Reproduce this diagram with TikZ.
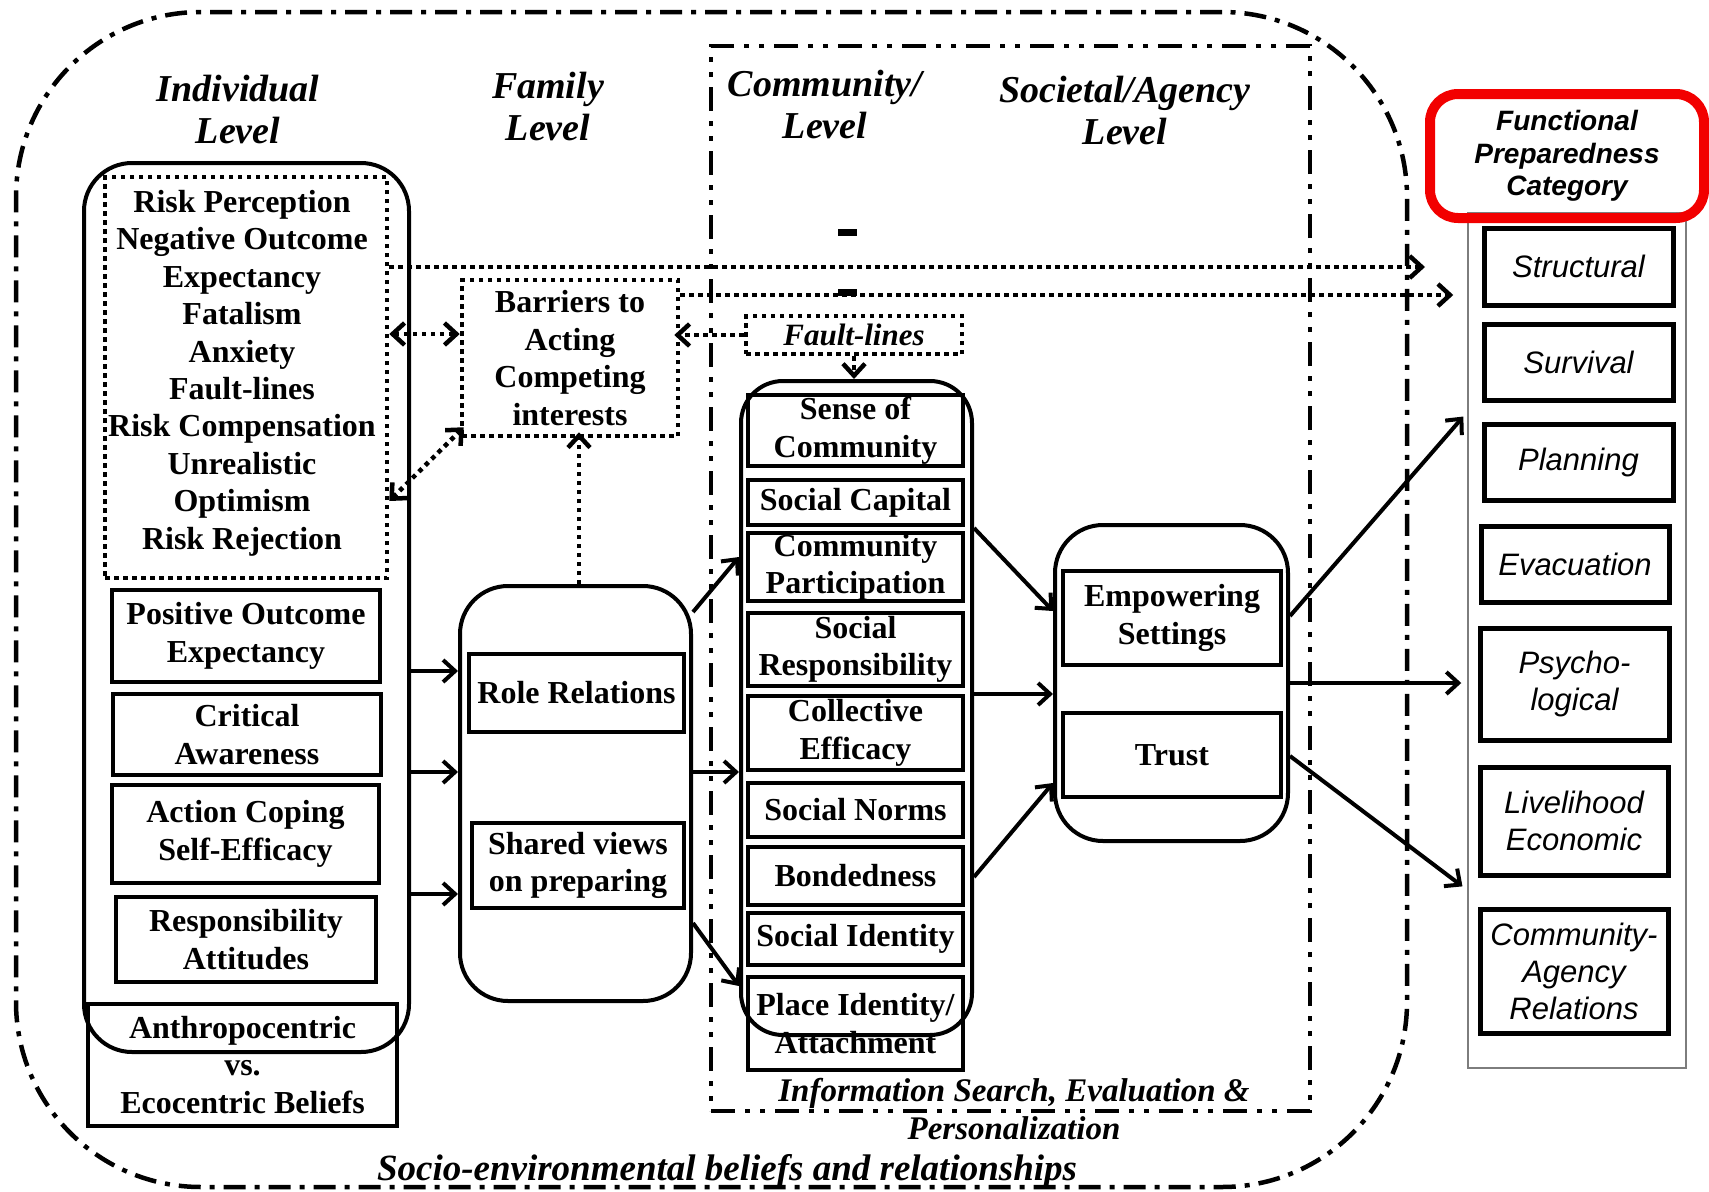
\documentclass[tikz,border=0pt]{standalone}
\usepackage{fontspec}
\setmainfont{Liberation Serif}
\newfontfamily\arialfont{Liberation Sans}
\usetikzlibrary{arrows.meta,calc}
\definecolor{hlred}{RGB}{242,0,0}
\definecolor{framegray}{RGB}{125,125,125}
\begin{document}
\begin{tikzpicture}[x=1pt,y=-1pt,
  >={Straight Barb[length=12pt,width=22pt]},
  body/.style={font=\fontsize{32}{37.4}\selectfont\bfseries, align=center},
  lvl/.style={font=\fontsize{38}{42}\selectfont\bfseries\itshape, align=center},
  note/.style={font=\fontsize{31}{38}\selectfont\bfseries\itshape, align=center},
  cat/.style={font=\arialfont\itshape\fontsize{31}{37}\selectfont, align=center},
  sbox/.style={draw, line width=4.5pt, inner sep=0pt, body},
  rbox/.style={draw, line width=4pt, rounded corners=48pt, inner sep=0pt},
  dbox/.style={draw, line width=4.5pt, dash pattern=on 4.5pt off 4.5pt, inner sep=0pt},
  cbox/.style={draw, line width=5pt, inner sep=0pt, cat},
  flow/.style={->, line width=4pt},
  dflow/.style={line width=4.5pt, dash pattern=on 4.5pt off 4.5pt},
  frame/.style={draw, line width=4.5pt, dash pattern=on 22pt off 9pt on 5pt off 9pt, inner sep=0pt},
  panel/.style={draw, line width=4.5pt, dash pattern=on 24pt off 10pt on 5pt off 10pt on 5pt off 10pt, inner sep=0pt},
]
\useasboundingbox (0,0) rectangle (1709,1192);

% outer frame and the community/agency panel
\node[frame, rounded corners=185pt, minimum width=1391pt, minimum height=1175pt] (outer) at (711.5,599.5) {};
\node[panel, minimum width=599pt, minimum height=1065pt] (panel) at (1010.5,578.5) {};

% level headings
\node[lvl] (lvind) at (238,109) {Individual\\Level};
\node[lvl] (lvfam) at (548,106) {Family\\Level};
\node[lvl] (lvcom) at (825,104) {Community/\\Level};
\node[lvl] (lvsoc) at (1125,110) {Societal/Agency\\Level};
\fill (838,229) rectangle (857,236);
\fill (838,289) rectangle (857,296);

% individual level
\node[sbox, minimum width=309pt, minimum height=122pt] (anthro) at (242.5,1065) {Anthropocentric\\vs.\\Ecocentric Beliefs};
\node[rbox, minimum width=325pt, minimum height=889pt] (indiv) at (246.5,607.5) {};
\node[dbox, minimum width=282pt, minimum height=401pt] (neg) at (246,377.5) {};
\node[body] (negtxt) at (242,373) {Risk Perception\\Negative Outcome\\Expectancy\\Fatalism\\Anxiety\\Fault-lines\\Risk Compensation\\Unrealistic\\Optimism\\Risk Rejection};
\node[sbox, minimum width=268pt, minimum height=92pt] (pos) at (246,636) {Positive Outcome\\Expectancy};
\node[sbox, minimum width=268pt, minimum height=81pt] (crit) at (247,734.5) {Critical\\Awareness};
\node[sbox, minimum width=267pt, minimum height=98pt] (act) at (245.5,834) {Action Coping\\Self-Efficacy};
\node[sbox, minimum width=260pt, minimum height=85pt] (resp) at (246,939.5) {Responsibility\\Attitudes};

% family level
\node[dbox, body, minimum width=216pt, minimum height=156pt] (barr) at (570,358) {Barriers to\\Acting\\Competing\\interests};
\node[rbox, minimum width=231pt, minimum height=415pt] (fam) at (575.5,793.5) {};
\node[sbox, minimum width=215pt, minimum height=78pt] (role) at (576.5,693) {Role Relations};
\node[sbox, minimum width=212pt, minimum height=85pt] (shared) at (578,865.5) {Shared views\\on preparing};

% community level
\node[dbox, note, minimum width=216pt, minimum height=38pt] (fault) at (854,335) {Fault-lines};
\node[sbox, minimum width=215pt, minimum height=93pt] (place) at (855.5,1023.5) {Place Identity/\\Attachment};
\node[rbox, rounded corners=42pt, minimum width=231pt, minimum height=654pt] (comm) at (856.5,708) {};
\node[sbox, minimum width=215pt, minimum height=71pt] (sense) at (855.5,430.5) {Sense of\\Community};
\node[sbox, minimum width=215pt, minimum height=45pt] (capital) at (855.5,502.5) {Social Capital};
\node[sbox, minimum width=215pt, minimum height=68pt] (partic) at (855.5,567) {Community\\Participation};
\node[sbox, minimum width=215pt, minimum height=73pt] (socresp) at (855.5,649.5) {Social\\Responsibility};
\node[sbox, minimum width=215pt, minimum height=74pt] (coll) at (855.5,733) {Collective\\Efficacy};
\node[sbox, minimum width=215pt, minimum height=54pt] (norms) at (855.5,810) {Social Norms};
\node[sbox, minimum width=215pt, minimum height=58pt] (bond) at (855.5,876) {Bondedness};
\node[sbox, minimum width=215pt, minimum height=52pt] (ident) at (855.5,939) {Social Identity};
\node[note, font=\fontsize{33}{38}\selectfont\bfseries\itshape] (info) at (1014,1109) {Information Search, Evaluation \&\\Personalization};

% societal/agency level
\node[rbox, minimum width=233pt, minimum height=316pt] (emp) at (1171.5,683) {};
\node[sbox, minimum width=218pt, minimum height=94pt] (empset) at (1172,618) {Empowering\\Settings};
\node[sbox, minimum width=218pt, minimum height=84pt] (trust) at (1172,755) {Trust};

\node[note, font=\fontsize{37}{40}\selectfont\bfseries\itshape] (socio) at (727,1171) {Socio-environmental beliefs and relationships};

% functional preparedness categories
\node[draw=framegray, line width=1.5pt, minimum width=218pt, minimum height=855pt] (col) at (1577,640.5) {};
\node[draw=hlred, line width=10pt, rounded corners=28pt, minimum width=274pt, minimum height=124pt, align=center,
      font=\arialfont\bfseries\itshape\fontsize{28}{32.5}\selectfont] (fpc) at (1567,156) {Functional\\Preparedness\\Category};
\node[cbox, minimum width=189pt, minimum height=77pt] (struct) at (1578.5,266.5) {Structural};
\node[cbox, minimum width=189pt, minimum height=76pt] (surv) at (1578.5,362) {Survival};
\node[cbox, minimum width=189pt, minimum height=76pt] (plan) at (1578.5,462) {Planning};
\node[cbox, minimum width=188pt, minimum height=76pt] (evac) at (1575,564) {Evacuation};
\node[cbox, minimum width=189pt, minimum height=112pt] (psych) at (1574.5,684) {Psycho-\\logical};
\node[cbox, minimum width=188pt, minimum height=108pt] (live) at (1574,821) {Livelihood\\Economic};
\node[cbox, minimum width=188pt, minimum height=124pt] (comag) at (1574,971) {Community-\\Agency\\Relations};

% dotted links
\draw[dflow,->] (neg.east |- 0,267) -- (fpc.west |- 0,267);
\draw[dflow,->,shorten >=14pt] (barr.east |- 0,295) -- (col.west |- 0,295);
\draw[dflow,<->] (neg.east |- 0,334) -- (barr.west |- 0,334);
\draw[dflow,<->] (neg.east |- 0,501) -- ($(barr.south west)+(4,-11)$);
\draw[dflow,->,shorten >=-6pt] (fam.north -| 579,0) -- (barr.south -| 579,0);
\draw[dflow,->,shorten >=-6pt] (fault.west) -- (barr.east |- fault.west);
\draw[dflow,->] (fault.south) -- (fault.south |- comm.north);

% solid links
\foreach \y in {671,772,894} \draw[flow] (indiv.east |- 0,\y) -- (fam.west |- 0,\y);
\draw[flow] (fam.east |- 0,612) -- (comm.west |- 0,557);
\draw[flow] (fam.east |- 0,772) -- (comm.west |- 0,772);
\draw[flow] (fam.east |- 0,923) -- (comm.west |- 0,986);
\draw[flow] (comm.east |- 0,528) -- (emp.west |- 0,611);
\draw[flow] (comm.east |- 0,694) -- (emp.west |- 0,694);
\draw[flow] (comm.east |- 0,877) -- (emp.west |- 0,783);
\draw[flow,shorten >=6pt] (emp.east |- 0,616) -- (col.west |- 0,412);
\draw[flow,shorten >=6pt] (emp.east |- 0,683) -- (col.west |- 0,683);
\draw[flow,shorten >=6pt] (emp.east |- 0,756) -- (col.west |- 0,890);
\end{tikzpicture}
\end{document}
